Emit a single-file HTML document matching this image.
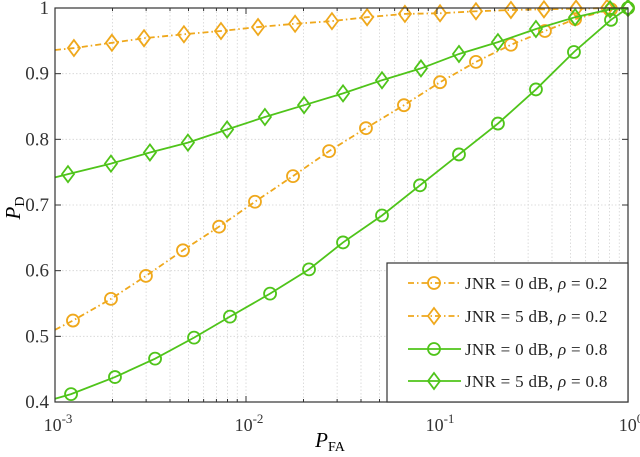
<!DOCTYPE html>
<html><head><meta charset="utf-8"><style>
body{margin:0;background:#fff}
svg{display:block;font-family:"Liberation Serif",serif}
</style></head><body>
<svg id="chart" width="640" height="457" viewBox="0 0 640 457" xmlns="http://www.w3.org/2000/svg">
<g id="grid"></g>
<g id="series"></g>
<g id="axes"></g>
<text x="330" y="447" font-size="21" font-style="italic" text-anchor="middle">P<tspan font-size="14" font-style="normal" dy="4">FA</tspan></text>
<text transform="translate(20,208) rotate(-90)" font-size="21" font-style="italic" text-anchor="middle">P<tspan font-size="14" font-style="normal" dy="4">D</tspan></text>
<g id="legend"></g>
</svg>
<script>
const logX_orangeCircle=[-3,-2.906,-2.707,-2.524,-2.330,-2.141,-1.953,-1.754,-1.565,-1.372,-1.173,-0.984,-0.796,-0.613,-0.435,-0.277,-0.089,0];
const pd_orangeCircle=[0.51,0.524,0.557,0.592,0.631,0.667,0.705,0.744,0.782,0.817,0.852,0.887,0.918,0.944,0.965,0.983,0.998,1];
const logX_orangeDiamond=[-3,-2.901,-2.702,-2.534,-2.325,-2.131,-1.937,-1.743,-1.550,-1.366,-1.168,-0.984,-0.796,-0.613,-0.440,-0.272,-0.110,0];
const pd_orangeDiamond=[0.936,0.939,0.947,0.954,0.960,0.965,0.971,0.976,0.980,0.986,0.991,0.992,0.995,0.997,0.998,0.999,1,1];
const logX_greenCircle=[-3,-2.916,-2.686,-2.476,-2.272,-2.084,-1.874,-1.670,-1.492,-1.288,-1.089,-0.885,-0.681,-0.482,-0.283,-0.089,0];
const pd_greenCircle=[0.405,0.412,0.438,0.466,0.498,0.530,0.565,0.602,0.643,0.684,0.730,0.777,0.824,0.876,0.933,0.982,1];
const logX_greenDiamond=[-3,-2.932,-2.707,-2.503,-2.304,-2.099,-1.901,-1.696,-1.492,-1.288,-1.084,-0.885,-0.681,-0.482,-0.277,-0.094,0];
const pd_greenDiamond=[0.742,0.747,0.763,0.780,0.795,0.815,0.834,0.852,0.870,0.890,0.908,0.930,0.948,0.968,0.986,0.998,1];
const yTicks=[0.4,0.5,0.6,0.7,0.8,0.9,1];
const yTickLabels=["0.4","0.5","0.6","0.7","0.8","0.9","1"];
const xDecades=[-3,-2,-1,0];
const legendLabels=["0 dB, ","5 dB, ","0 dB, ","5 dB, "];
const legendRho=["0.2","0.2","0.8","0.8"];

const L=55,R=628,T=8,B=402;
const NS="http://www.w3.org/2000/svg";
const X=v=>L+(v+3)/3*(R-L);
const Y=v=>B-(v-0.4)/0.6*(B-T);
const ORANGE="#EFA81C",GREEN="#4FC41A";
function mk(tag,attrs,parent){const e=document.createElementNS(NS,tag);for(const k in attrs)e.setAttribute(k,attrs[k]);parent.appendChild(e);return e;}
const grid=document.getElementById('grid'),axes=document.getElementById('axes'),ser=document.getElementById('series'),leg=document.getElementById('legend');

xDecades.forEach((d,i)=>{
  for(let m=1;m<=9;m++){
    if(d===0&&m>1)break;
    const x=X(d+Math.log10(m));
    const g=mk('line',{x1:x,x2:x,y1:T,y2:B,stroke:'#d4d4d4','stroke-width':0.8,'stroke-dasharray':'1.5,2'},grid);
    
    
    const t1=mk('line',{x1:x,x2:x,y1:B,y2:B-(m===1?6:3),stroke:'#333','stroke-width':1},axes);
    
    
    const t2=mk('line',{x1:x,x2:x,y1:T,y2:T+(m===1?6:3),stroke:'#333','stroke-width':1},axes);
    
    
  }
  const tx=mk('text',{x:X(d)+3,y:431,'font-size':18,fill:'#333','text-anchor':'middle'},axes);
  
  
  tx.innerHTML='10<tspan font-size="13" dy="-8">'+d+'</tspan>';
});
yTicks.forEach((v,i)=>{
  const y=Y(v);
  const g=mk('line',{x1:L,x2:R,y1:y,y2:y,stroke:'#d4d4d4','stroke-width':0.8,'stroke-dasharray':'1.5,2'},grid);
  
  
  const t1=mk('line',{x1:L,x2:L+6,y1:y,y2:y,stroke:'#333'},axes);
  
  
  const t2=mk('line',{x1:R,x2:R-6,y1:y,y2:y,stroke:'#333'},axes);
  
  
  const tx=mk('text',{x:L-6,y:y+6,'font-size':19,fill:'#333','text-anchor':'end'},axes);
  
  
  tx.textContent=yTickLabels[i];
});
const frame=mk('rect',{x:L,y:T,width:R-L,height:B-T,fill:'none',stroke:'#333','stroke-width':1.2},axes);



function marker(type,x,y,color,parent){
  let m;
  if(type==='o') m=mk('circle',{cx:x,cy:y,r:6,fill:'none',stroke:color,'stroke-width':1.8},parent);
  else m=mk('polygon',{points:`${x},${y-8} ${x+6},${y} ${x},${y+8} ${x-6},${y}`,fill:'none',stroke:color,'stroke-width':1.8},parent);
  
  
}
const seriesDefs=[
 [logX_orangeCircle,pd_orangeCircle,ORANGE,'6,3,1.5,3','o','jnr0-rho02-line'],
 [logX_orangeDiamond,pd_orangeDiamond,ORANGE,'6,3,1.5,3','d','jnr5-rho02-line'],
 [logX_greenCircle,pd_greenCircle,GREEN,'','o','jnr0-rho08-line'],
 [logX_greenDiamond,pd_greenDiamond,GREEN,'','d','jnr5-rho08-line']
];
seriesDefs.forEach(s=>{
  const [xs,ys,c,dash,mt,name]=s;
  const pts=xs.map((v,i)=>X(v)+','+Y(Math.min(ys[i],1))).join(' ');
  const pl=mk('polyline',{points:pts,fill:'none',stroke:c,'stroke-width':1.8,'stroke-dasharray':dash},ser);
  
  
  xs.forEach((v,i)=>{if(i>0)marker(mt,X(v),Y(Math.min(ys[i],1)),c,ser);});
});

const lb=mk('rect',{x:387,y:263,width:241,height:139,fill:'#fff',stroke:'#333','stroke-width':1.2},leg);


const ly=[283,316,349,381];
seriesDefs.forEach((s,i)=>{
  const g=mk('g',{},leg);
  
  
  const ln=mk('line',{x1:408,x2:461,y1:ly[i],y2:ly[i],stroke:s[2],'stroke-width':1.8,'stroke-dasharray':s[3]},g);
  
  
  marker(s[4],434,ly[i],s[2],g);
  const t=mk('text',{x:465,y:ly[i]+6,'font-size':17,fill:'#222','letter-spacing':'0.3'},g);
  
  
  t.innerHTML='JNR = '+legendLabels[i]+'<tspan font-style="italic">ρ</tspan> = '+legendRho[i];
});
</script>
</body></html>
